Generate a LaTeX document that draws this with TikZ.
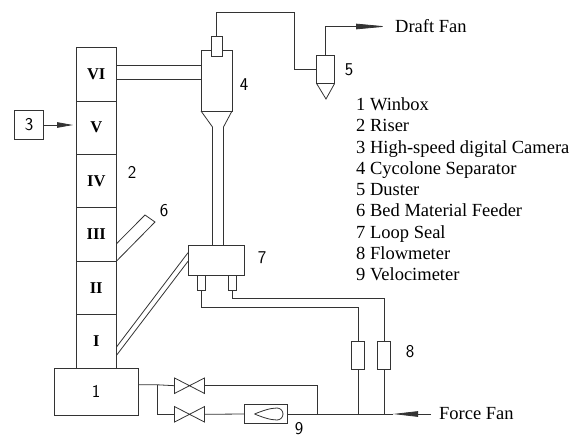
\documentclass[tikz,border=0pt]{standalone}
\usepackage{fontspec}
\setmainfont{Liberation Serif}
\usetikzlibrary{positioning, arrows.meta}

\tikzset{
	line/.style={line width=0.8pt, draw=black!80},
	unit/.style={line, rectangle, inner sep=0pt, outer sep=0pt},
	section/.style={unit, minimum width=40.5pt, minimum height=53.4pt, font=\fontsize{16.5}{16.5}\selectfont\bfseries},
	number/.style={font=\sffamily\fontsize{18}{18}\selectfont, inner sep=0pt},
	label/.style={font=\fontsize{18.5}{20}\selectfont, inner xsep=8pt, inner ysep=0pt, anchor=west},
	fan/.style={line, -{Triangle[length=#1, width=5.5pt]}},
	valve/.style={minimum width=30pt, minimum height=15.5pt, inner sep=0pt, outer sep=0pt},
	flowmeter/.style={unit, minimum width=13pt, minimum height=28.5pt},
	leg/.style={unit, minimum width=8pt, minimum height=14.6pt, anchor=north},
}

\begin{document}
\begin{tikzpicture}[x=1pt, y=-1pt, node distance=0pt]
	\useasboundingbox (0,0) rectangle (582,437);

	\node[section] (r6) at (96.25,74.2) {VI};
	\node[section, below=of r6] (r5) {V};
	\node[section, below=of r5] (r4) {IV};
	\node[section, below=of r4] (r3) {III};
	\node[section, below=of r3] (r2) {II};
	\node[section, below=of r2] (r1) {I};
	\node[unit, minimum width=84pt, minimum height=47pt, number, anchor=north] (winbox) at (96,368) {1};

	\node[unit, minimum width=29pt, minimum height=29pt, number] (camera) at (29,124.5) {3};
	\coordinate (cameratip) at (73,125);
	\draw[fan=16pt] (camera.east |- cameratip) -- (cameratip);

	\node[unit, minimum width=31pt, minimum height=61pt] (cyclone) at (216.5,80.5) {};
	\node[unit, fill=white, minimum width=10.5pt, minimum height=20.5pt] (finder) at (216.75,46.25) {};
	\coordinate (pipeleft) at (212.5,127);
	\coordinate (piperight) at (223.5,127);
	\draw[line] (cyclone.south west) -- (pipeleft);
	\draw[line] (cyclone.south east) -- (piperight);
	\draw[line] (116.5,65) -- (201,65);
	\draw[line] (116.5,79) -- (201,79);

	\node[unit, minimum width=56pt, minimum height=30pt] (seal) at (216,260.7) {};
	\draw[line] (pipeleft) -- (pipeleft |- seal.north);
	\draw[line] (piperight) -- (piperight |- seal.north);
	\node[leg] (legleft) at (201.5,275.7) {};
	\node[leg] (legright) at (232.8,275.7) {};
	\draw[line] (116.5,347) -- (188,252.7);
	\draw[line] (116.5,355.3) -- (188,261.3);

	\coordinate (feedera) at (145,215);
	\coordinate (feederb) at (155,222);
	\draw[line] (116.5,243.7) -- (feedera) -- (feederb) -- (r3.south east);

	\node[unit, minimum width=18pt, minimum height=28pt] (duster) at (325.6,69.5) {};
	\coordinate (dustertip) at (326,99);
	\draw[line] (duster.south west) -- (dustertip) -- (duster.south east);
	\coordinate (bend) at (294.7,12);
	\draw[line] (finder.north) |- (bend) |- (duster.west);

	\node[label] (draft) at (387,26.5) {Draft Fan};
	\draw[fan=31pt] (duster.north) |- (draft.west);

	\node[label] (force) at (431,414) {Force Fan};
	\coordinate (forcetip) at (393,414);
	\draw[fan=25pt] (force.west) -- (forcetip);

	\node[flowmeter] (flowa) at (358.2,355.3) {};
	\node[flowmeter] (flowb) at (384,355.5) {};
	\draw[line] (legleft.south) |- (358.2,307) -- (flowa.north);
	\draw[line] (legright.south) |- (384,298) -- (flowb.north);
	\draw[line] (flowa.south) -- (flowa.south |- forcetip);
	\draw[line] (flowb.south) -- (flowb.south |- forcetip);

	\node[valve] (valvea) at (189.5,385.7) {};
	\node[valve] (valveb) at (189.5,414.3) {};
	\draw[line] (valvea.north west) -- (valvea.south east) -- (valvea.north east) -- (valvea.south west) -- cycle;
	\draw[line] (valveb.north west) -- (valveb.south east) -- (valveb.north east) -- (valveb.south west) -- cycle;
	\node[unit, minimum width=43pt, minimum height=18.5pt] (velo) at (266,414) {};
	\draw[line] (254.5,414) .. controls (262,411) and (270,408) .. (277,408) arc[start angle=-90, end angle=90, radius=6] .. controls (270,420) and (262,417) .. (254.5,414);

	\coordinate (branch) at (157.5,384.8);
	\draw[line] (winbox.east |- branch) -- (branch) -- (valvea.west);
	\draw[line] (branch) |- (valveb.west);
	\draw[line] (valvea.east) -| (317.7,414);
	\draw[line] (valveb.east) -- (velo.west);
	\draw[line] (velo.east) -- (forcetip);

	\node[number] at (132,172) {2};
	\node[number] at (244,85) {4};
	\node[number] at (349,70) {5};
	\node[number] at (164,211) {6};
	\node[number] at (262,258) {7};
	\node[number] at (410,352) {8};
	\node[number] at (299,429) {9};

	\node[anchor=north west, inner sep=0pt, align=left, font=\fontsize{18.5}{21.25}\selectfont] (legend) at (356,97.5) {1 Winbox\\2 Riser\\3 High-speed digital Camera\\4 Cycolone Separator\\5 Duster\\6 Bed Material Feeder\\7 Loop Seal\\8 Flowmeter\\9 Velocimeter};
\end{tikzpicture}
\end{document}
